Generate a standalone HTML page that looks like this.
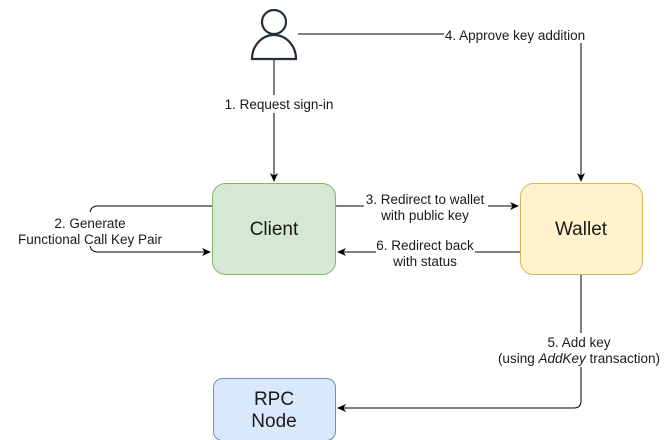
<!DOCTYPE html>
<html><head><style>
html,body{margin:0;padding:0;background:#fff;}
svg{display:block;font-family:"Liberation Sans",Arial,sans-serif;}
.l{font-size:13.5px;fill:#1a1a1a;text-anchor:middle;}
.b{font-size:19px;fill:#1a1a1a;text-anchor:middle;}
</style></head><body>
<svg width="669" height="440" viewBox="0 0 669 440">
<defs><marker id="a" markerWidth="10" markerHeight="10" refX="8" refY="5" orient="auto" markerUnits="userSpaceOnUse"><path d="M0,1 L9,5 L0,9 L2.5,5 Z" fill="#000"/></marker></defs>
<circle cx="274" cy="22" r="12" fill="#fff" stroke="#23303a" stroke-width="2.2"/>
<path d="M252,59 A22,24 0 0 1 296,59 Z" fill="#fff" stroke="#23303a" stroke-width="2.2"/>
<path d="M274,60 V181" stroke="#000" fill="none" marker-end="url(#a)"/>
<rect x="220" y="95" width="116" height="18" fill="#fff"/>
<text class="l" x="279" y="109">1. Request sign-in</text>
<path d="M298,34 H581 V181" stroke="#000" fill="none" marker-end="url(#a)"/>
<rect x="444" y="26" width="142" height="17" fill="#fff"/>
<text class="l" x="515" y="40">4. Approve key addition</text>
<path d="M212,206 H98 Q90,206 90,214 V244 Q90,252 98,252 H210" stroke="#000" fill="none" marker-end="url(#a)"/>
<rect x="17" y="212" width="146" height="34" fill="#fff"/>
<text class="l" x="90" y="228">2. Generate</text>
<text class="l" x="90" y="244">Functional Call Key Pair</text>
<path d="M336,206 H518" stroke="#000" fill="none" marker-end="url(#a)"/>
<rect x="364" y="190" width="124" height="34" fill="#fff"/>
<text class="l" x="425" y="204">3. Redirect to wallet</text>
<text class="l" x="425" y="220">with public key</text>
<path d="M520,252 H338" stroke="#000" fill="none" marker-end="url(#a)"/>
<rect x="376" y="237" width="99" height="34" fill="#fff"/>
<text class="l" x="425" y="250">6. Redirect back</text>
<text class="l" x="425" y="266">with status</text>
<path d="M581,275 V401 Q581,408 574,408 H338" stroke="#000" fill="none" marker-end="url(#a)"/>
<rect x="498" y="333" width="162" height="34" fill="#fff"/>
<text class="l" x="579" y="347">5. Add key</text>
<text class="l" x="579" y="363">(using <tspan font-style="italic">AddKey</tspan> transaction)</text>
<rect x="212.5" y="183.5" width="123" height="91" rx="13" fill="#d5e8d4" stroke="#82b366"/>
<text class="b" x="274" y="235">Client</text>
<rect x="520.5" y="183.5" width="122" height="91" rx="13" fill="#fff2cc" stroke="#d6b656"/>
<text class="b" x="581" y="235">Wallet</text>
<rect x="213.5" y="378.5" width="122" height="62" rx="9" fill="#dae8fc" stroke="#6c8ebf"/>
<text class="b" x="274" y="405">RPC</text>
<text class="b" x="274" y="427">Node</text>
</svg>
</body></html>
